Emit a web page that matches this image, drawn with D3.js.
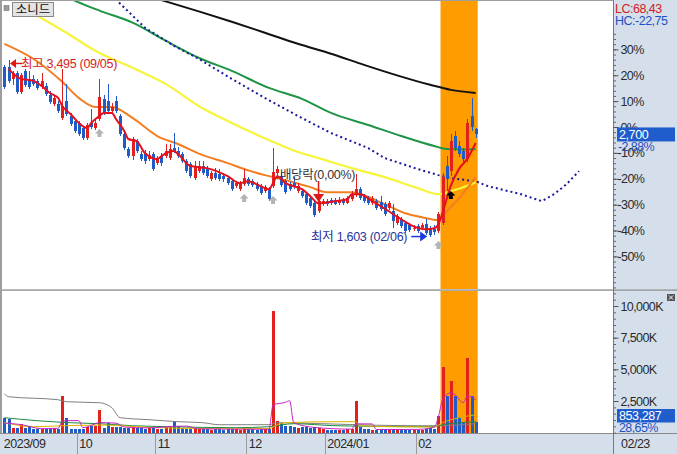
<!DOCTYPE html>
<html><head><meta charset="utf-8">
<script src="https://cdn.jsdelivr.net/npm/d3@7/dist/d3.min.js"></script>
<style>
html,body{margin:0;padding:0;background:#fff;overflow:hidden}
svg{display:block;font-family:"Liberation Sans","Noto Sans CJK KR",sans-serif}
</style></head><body>
<svg id="c" width="677" height="454"></svg>
<script>
// ---------------- DATA ----------------
const stockName = "소니드";
const monthLabels = ["2023/09","10","11","12","2024/01","02"];
const monthStartIdx = [0,18,37,59,78,100];
const lastDateLabel = "02/23";
const prevClose = 2780;

const opens = [3425,3425,3295,3360,3155,3385,3295,3295,3275,3210,3220,3125,3030,3030,2875,3060,2900,2845,
2825,2770,2660,2825,2770,2865,3080,3060,2950,3060,2900,2705,2545,2470,2630,2490,2500,2435,2490,
2390,2470,2470,2445,2555,2520,2490,2415,2380,2230,2305,2360,2340,2220,2285,2275,2250,2230,2200,2145,2110,2165,
2220,2200,2165,2145,2090,2110,2145,2285,2250,2200,2165,2175,2090,2090,2060,2015,1960,1875,1950,
1985,1995,1995,1960,1995,1960,2005,2045,2110,2035,2015,1960,1985,1970,1950,1905,1875,1745,1790,1745,1725,1680,
1715,1690,1735,1690,1680,1660,1745,2360,2305,2685,2575,2520,2435,2900,2760];
const highs = [3450,3495,3385,3385,3360,3405,3385,3340,3295,3360,3255,3170,3125,3060,3405,3245,2930,2865,
2845,2790,2825,2975,2865,3295,3125,3245,3040,3115,2920,2725,2565,2670,2650,2520,2530,2520,2510,
2470,2500,2595,2595,2715,2565,2510,2435,2405,2415,2415,2415,2360,2305,2340,2330,2285,2250,2220,2200,2200,2330,
2240,2220,2185,2165,2155,2135,2555,2360,2285,2220,2185,2240,2175,2110,2080,2035,1985,2005,2005,
2005,2015,2015,2025,2015,2035,2090,2275,2135,2060,2035,2035,2005,2035,1970,1985,1950,1845,1810,1765,1745,1725,
1735,1745,1790,1715,1725,1865,2285,2470,2705,2735,2630,2555,2865,3090,2770];
const lows = [3190,3255,3235,3135,3135,3210,3190,3220,3180,3190,3115,3030,3005,2930,2855,2900,2790,2715,
2685,2640,2640,2760,2750,2845,2910,2930,2930,2930,2685,2530,2445,2425,2500,2415,2380,2415,2305,
2370,2360,2445,2425,2500,2445,2390,2285,2230,2210,2285,2265,2230,2200,2210,2200,2185,2155,2090,2125,2090,2145,
2145,2135,2090,2045,2070,1985,2125,2220,2135,2060,2090,2110,2070,2015,1940,1905,1810,1855,1930,
1930,1940,1940,1940,1940,1950,1985,2025,1995,1960,1940,1940,1885,1875,1820,1885,1690,1725,1690,1640,1650,1660,
1640,1670,1615,1603,1625,1640,1725,2090,2250,2520,2455,2390,2405,2735,2660];
const closes = [3210,3275,3360,3155,3340,3235,3210,3245,3200,3275,3135,3050,3090,2950,3005,2920,2810,2735,
2705,2660,2800,2780,2825,3105,2930,2950,2995,2950,2705,2555,2470,2650,2520,2435,2415,2480,2330,
2445,2390,2520,2545,2520,2470,2415,2305,2250,2360,2360,2285,2250,2285,2230,2220,2220,2175,2110,2175,2175,2230,
2165,2155,2110,2070,2135,2005,2295,2330,2155,2080,2110,2135,2145,2035,1960,1930,1830,1985,1985,
1950,1960,1950,1995,1960,2015,2060,2110,2015,1985,1960,2005,1905,1895,1845,1960,1765,1820,1715,1660,1670,1700,
1660,1725,1640,1625,1650,1845,2240,2220,2630,2555,2490,2435,2825,2780,2700];
// volume in thousands of shares
const volumes = [1160,1100,390,390,710,400,420,320,280,300,330,310,380,320,2860,1160,280,300,
330,300,420,550,500,1810,400,760,450,420,450,400,380,420,380,350,330,370,350,
300,320,450,500,890,550,350,300,320,280,260,300,280,250,270,260,240,280,300,260,250,350,
280,260,250,270,300,260,9570,950,800,550,550,430,400,450,420,380,450,350,300,
250,230,220,240,230,260,280,2470,480,300,260,240,230,250,240,280,260,230,220,240,220,230,
240,220,280,350,300,1290,5150,2900,4100,2900,1200,800,5900,2900,853.287];

// price moving averages: [day index, price]
const maLong = [[30,4245],[38,4143],[47,4022],[55,3911],[63,3793],[71,3674],[79,3567],[87,3448],[95,3335],[103,3233],[108,3179],[114,3146]];
const ma60 = [[10,4299],[17,4138],[23,4030],[31,3901],[39,3707],[47,3524],[55,3383],[64,3200],[72,3082],[79,2931],[88,2802],[96,2683],[104,2575],[107,2543],[111,2538],[114,2543]];
const ma20 = [[8,3976],[15,3793],[22,3599],[31,3416],[39,3243],[47,3006],[55,2823],[64,2640],[71,2511],[76,2446],[84,2338],[92,2241],[100,2123],[105,2058],[108,2090],[111,2133],[114,2187]];
const ma10 = [[0,3674],[7,3513],[14,3265],[18,3093],[22,2996],[26,2996],[31,2877],[37,2683],[42,2597],[48,2478],[54,2392],[58,2328],[63,2263],[69,2198],[74,2134],[78,2080],[84,2080],[87,2047],[92,1950],[97,1853],[101,1810],[105,1778],[107,1875],[110,2015],[114,2241]];
const ma5 = [[1,3405],[4,3297],[7,3276],[9,3222],[11,3146],[13,3092],[14,3006],[16,2920],[18,2823],[20,2769],[21,2823],[23,2899],[24,2931],[26,2931],[27,2866],[29,2737],[30,2651],[32,2629],[34,2500],[37,2435],[38,2468],[41,2521],[42,2489],[45,2360],[49,2338],[54,2252],[57,2177],[59,2198],[62,2144],[64,2112],[65,2177],[66,2252],[68,2177],[72,2112],[74,2037],[76,1961],[80,1983],[83,2004],[84,2058],[86,2058],[89,1983],[93,1875],[96,1789],[99,1713],[102,1681],[104,1692],[105,1735],[106,1860],[108,2150],[110,2330],[112,2440],[114,2608]];
const leadSpan = [[26,4192],[34,3847],[41,3653],[47,3513],[55,3297],[63,3092],[71,2899],[79,2715],[88,2554],[92,2446],[100,2328],[105,2263],[108,2230],[114,2198],[117,2144],[125,2058],[130,1983],[133,2058],[136,2166],[139,2306]];

// volume moving averages (K): [day index, value]
const vmaLong = [[0,3076],[1,2839],[13,2602],[15,2445],[23,2366],[26,1972],[28,1183],[35,1025],[42,867],[48,789],[52,631],[64,631],[66,789],[77,710],[90,591],[100,552],[105,552],[114,710]];
const vma60 = [[0,1183],[8,946],[16,789],[23,710],[31,552],[40,473],[56,394],[64,473],[70,710],[80,552],[100,473],[104,473],[106,631],[110,789],[114,867]];
const vma20 = [[0,789],[7,470],[14,550],[24,600],[35,420],[50,320],[64,320],[66,630],[68,790],[80,870],[85,870],[86,550],[95,470],[104,450],[106,790],[110,1180],[114,1420]];
const vma5 = [[0,760],[4,640],[9,320],[13,350],[14,900],[16,960],[18,950],[19,400],[22,700],[23,800],[27,750],[29,450],[35,380],[41,500],[44,520],[47,300],[58,280],[64,270],[65,2200],[68,2400],[69,2520],[70,790],[75,420],[84,280],[85,700],[89,690],[90,250],[100,260],[104,450],[105,1260],[106,2600],[108,3150],[109,3000],[111,2370],[112,2900],[114,2600]];

const highlightFrom = 106, highlightTo = 114;   // orange band
const grayArrows = [23,58,65,105];
const blackArrows = [108];
const exDivIdx = 76;
const pctTicks = [30,20,10,0,-10,-20,-30,-40,-50];
const volTicks = [2500,5000,7500,10000];
const lcText = "LC:68,43", hcText = "HC:-22,75";
const lastPctText = "-2,88%", lastVolText = "853,287", volPctText = "28,65%";

// ---------------- LAYOUT ----------------
const svg = d3.select("#c");
const plotL = 2.3, slot = 4.134, nSlots = 148, axisX = 613;
const paneTop = 1, paneBot = 289, volTop = 291, volBot = 433;
const xl = d3.scaleLinear().domain([0, nSlots]).range([plotL, plotL + slot*nSlots]);
const xc = i => xl(i + 0.5);
const zeroY = 127, pxPer100 = 258.75;
const yP = d3.scaleLinear().domain([prevClose, prevClose*2]).range([zeroY, zeroY - pxPer100]);
const yPct = d3.scaleLinear().domain([0, 100]).range([zeroY, zeroY - pxPer100]);
const yV = d3.scaleLinear().domain([0, 10000]).range([432.7, 306]);

const UP = "#e3201c", DN = "#1f5cc8";
const panelBg = "#d5dfec";

svg.append("rect").attr("width",677).attr("height",454).attr("fill","#fff");
// right axis panel & bottom band
svg.append("rect").attr("x",axisX).attr("y",0).attr("width",677-axisX).attr("height",454).attr("fill",panelBg);
svg.append("rect").attr("x",0).attr("y",volBot).attr("width",677).attr("height",454-volBot).attr("fill",panelBg);

const defs = svg.append("defs");
defs.append("clipPath").attr("id","cp1").append("rect").attr("x",2).attr("y",paneTop).attr("width",axisX-2).attr("height",paneBot-paneTop);
defs.append("clipPath").attr("id","cp2").append("rect").attr("x",2).attr("y",volTop).attr("width",axisX-2).attr("height",volBot-volTop);

const gP = svg.append("g").attr("clip-path","url(#cp1)");
const gV = svg.append("g").attr("clip-path","url(#cp2)");

// orange highlight band
const bx0 = xl(highlightFrom), bx1 = xl(highlightTo+1);
gP.append("rect").attr("x",bx0).attr("y",paneTop).attr("width",bx1-bx0).attr("height",paneBot-paneTop).attr("fill","#ff9c00");
gV.append("rect").attr("x",bx0).attr("y",volTop).attr("width",bx1-bx0).attr("height",volBot-volTop).attr("fill","#ff9c00");

// long MA lines (behind candles)
const lineP = d3.line().x(d=>xc(d[0])).y(d=>yP(d[1])).curve(d3.curveMonotoneX);
const drawP = (data,color,w,dash,curve) => {
  const ln = d3.line().x(d=>xc(d[0])).y(d=>yP(d[1])).curve(curve||d3.curveMonotoneX);
  const p = gP.append("path").datum(data).attr("d",ln).attr("fill","none").attr("stroke",color).attr("stroke-width",w).attr("stroke-linejoin","round");
  if (dash) p.attr("stroke-dasharray",dash);
};
drawP(maLong,"#111111",2);
drawP(ma60,"#1e9446",2);
drawP(ma20,"#f6f43c",2.2);
drawP(leadSpan,"#1a1a9a",2,"2,3",d3.curveLinear);
drawP(ma10,"#f37e22",2);

// candles
const idx = d3.range(opens.length);
const col = i => closes[i] >= opens[i] ? UP : DN;
const cg = gP.append("g").attr("shape-rendering","crispEdges");
cg.selectAll("line.w").data(idx).join("line")
  .attr("x1",i=>Math.round(xc(i))+0.5).attr("x2",i=>Math.round(xc(i))+0.5)
  .attr("y1",i=>yP(highs[i])).attr("y2",i=>yP(lows[i])).attr("stroke",col).attr("stroke-width",1);
cg.selectAll("rect.b").data(idx).join("rect")
  .attr("x",i=>Math.round(xc(i))-1).attr("width",3)
  .attr("y",i=>yP(Math.max(opens[i],closes[i])))
  .attr("height",i=>Math.max(1,Math.abs(yP(opens[i])-yP(closes[i]))))
  .attr("fill",col);

drawP(ma5,"#e4101e",2);

// gray up arrows under candles
const upArrow = (g,cx,top,color) => {
  g.append("path").attr("d",`M${cx},${top} L${cx+4.5},${top+4.5} L${cx+2},${top+4.5} L${cx+2},${top+8} L${cx-2},${top+8} L${cx-2},${top+4.5} L${cx-4.5},${top+4.5} Z`).attr("fill",color);
};
grayArrows.forEach(i => upArrow(gP, xc(i), yP(lows[i])+8, "#b4b4b4"));
blackArrows.forEach(i => upArrow(gP, xc(i), 191, "#000"));

// high marker
const hiIdx = d3.maxIndex(highs), loIdx = d3.minIndex(lows);
const hx = xc(hiIdx)+1.5, hy = yP(highs[hiIdx]) + 3;
gP.append("path").attr("d",`M${hx},${hy} L${hx+6},${hy-4.5} L${hx+6},${hy+4.5} Z`).attr("fill","#e01818");
gP.append("line").attr("x1",hx+6).attr("x2",hx+12).attr("y1",hy).attr("y2",hy).attr("stroke","#e01818").attr("stroke-width",1.5);
gP.append("text").attr("x",hx+11).attr("y",hy).attr("dy","0.36em").attr("fill","#d42222").attr("font-size",12.5)
  .attr("letter-spacing","-0.3").text(`최고 ${d3.format(",")(highs[hiIdx])} (09/05)`);

// low marker
const lx = xc(loIdx)-3, ly = yP(lows[loIdx]);
gP.append("line").attr("x1",lx-16).attr("x2",lx-6).attr("y1",ly).attr("y2",ly).attr("stroke","#1a3ae0").attr("stroke-width",1.5);
gP.append("path").attr("d",`M${lx},${ly} L${lx-7},${ly-5} L${lx-7},${ly+5} Z`).attr("fill","#1a3ae0");
gP.append("text").attr("x",lx-20).attr("y",ly).attr("dy","0.36em").attr("text-anchor","end").attr("fill","#26349e").attr("font-size",12.5)
  .attr("letter-spacing","-0.3").text(`최저 ${d3.format(",")(lows[loIdx])} (02/06)`);

// ex-dividend marker
const ex = xc(exDivIdx);
gP.append("line").attr("x1",ex).attr("x2",ex).attr("y1",181).attr("y2",195).attr("stroke","#e01818").attr("stroke-width",1.5);
gP.append("path").attr("d",`M${ex-5.5},${194} L${ex+5.5},${194} L${ex},${202} Z`).attr("fill","#e01818");
gP.append("text").attr("x",ex-1).attr("y",174).attr("dy","0.36em").attr("text-anchor","middle").attr("fill","#333").attr("font-size",12.5)
  .attr("letter-spacing","-0.3").text("배당락(0,00%)");

// ---- volume pane ----
const vg = gV.append("g").attr("shape-rendering","crispEdges");
vg.selectAll("rect").data(idx).join("rect")
  .attr("x",i=>Math.round(xc(i))-1).attr("width",3)
  .attr("y",i=>yV(volumes[i])).attr("height",i=>yV(0)-yV(volumes[i]))
  .attr("fill",col);
const drawV = (data,color) => {
  const ln = d3.line().x(d=>xc(d[0])).y(d=>yV(d[1])).curve(d3.curveMonotoneX);
  gV.append("path").datum(data).attr("d",ln).attr("fill","none").attr("stroke",color).attr("stroke-width",1);
};
drawV(vmaLong,"#7f7f7f");
drawV(vma60,"#1e8a3e");
drawV(vma20,"#e0b400");
drawV(vma5,"#c424c4");

// ---- frames ----
svg.append("rect").attr("x",0).attr("y",0).attr("width",2).attr("height",volBot).attr("fill","#9e9e9e");
svg.append("line").attr("x1",0).attr("x2",axisX).attr("y1",0.5).attr("y2",0.5).attr("stroke","#9e9e9e");
svg.append("rect").attr("x",0).attr("y",289.3).attr("width",677).attr("height",1.6).attr("fill","#a0a0a0");
svg.append("line").attr("x1",0).attr("x2",677).attr("y1",volBot+0.5).attr("y2",volBot+0.5).attr("stroke","#8a8a8a");
svg.append("line").attr("x1",axisX+0.5).attr("x2",axisX+0.5).attr("y1",0).attr("y2",454).attr("stroke","#7a7a7a");

// ---- percent axis ----
const minorPct = d3.range(-62, 38, 2);
svg.append("g").attr("transform",`translate(${axisX+0.5},0)`)
  .call(d3.axisRight(yPct).tickValues(minorPct).tickSize(2.5).tickFormat(""))
  .call(g=>g.select(".domain").remove())
  .call(g=>g.selectAll("line").attr("stroke","#666"));
const pa = svg.append("g").attr("transform",`translate(${axisX+0.5},0)`)
  .call(d3.axisRight(yPct).tickValues(pctTicks).tickSize(5).tickPadding(2).tickFormat(d=>d+"%"))
  .call(g=>g.select(".domain").remove());
pa.selectAll("line").attr("stroke","#555");
pa.selectAll("text").attr("fill","#2a2a2a").attr("font-size",12.5).attr("font-family",null).attr("letter-spacing","-0.6")
  .attr("dx",d=>d<0?-3:0);

svg.append("text").attr("x",615).attr("y",8).attr("dy","0.36em").attr("fill","#d42020").attr("font-size",12.5).attr("letter-spacing","-0.5").text(lcText);
svg.append("text").attr("x",615).attr("y",20.5).attr("dy","0.36em").attr("fill","#2150c0").attr("font-size",12.5).attr("letter-spacing","-0.5").text(hcText);

// current price box
const cy = yP(closes[closes.length-1]);
svg.append("rect").attr("x",617).attr("y",cy-7).attr("width",58).attr("height",14).attr("fill","#1f5ccc");
svg.append("text").attr("x",619).attr("y",cy).attr("dy","0.36em").attr("fill","#fff").attr("font-size",12.5).attr("letter-spacing","-0.4")
  .text(d3.format(",")(closes[closes.length-1]));
svg.append("text").attr("x",618).attr("y",cy+12).attr("dy","0.36em").attr("fill","#2150c0").attr("font-size",12.5).attr("letter-spacing","-0.6").text(lastPctText);

// ---- volume axis ----
svg.append("g").attr("transform",`translate(${axisX+0.5},0)`)
  .call(d3.axisRight(yV).tickValues(d3.range(0, 11500, 500)).tickSize(2.5).tickFormat(""))
  .call(g=>g.select(".domain").remove())
  .call(g=>g.selectAll("line").attr("stroke","#666"));
const va = svg.append("g").attr("transform",`translate(${axisX+0.5},0)`)
  .call(d3.axisRight(yV).tickValues(volTicks).tickSize(5).tickPadding(2).tickFormat(d=>d3.format(",")(d)+"K"))
  .call(g=>g.select(".domain").remove());
va.selectAll("line").attr("stroke","#555");
va.selectAll("text").attr("fill","#2a2a2a").attr("font-size",12.5).attr("font-family",null).attr("letter-spacing","-0.6");

const vy = yV(volumes[volumes.length-1]);
svg.append("rect").attr("x",617).attr("y",409).attr("width",58).attr("height",13.5).attr("fill","#1f5ccc");
svg.append("text").attr("x",619).attr("y",415.8).attr("dy","0.36em").attr("fill","#fff").attr("font-size",12.5).attr("letter-spacing","-0.4").text(lastVolText);
svg.append("text").attr("x",619).attr("y",427.5).attr("dy","0.36em").attr("fill","#2150c0").attr("font-size",12.5).attr("letter-spacing","-0.6").text(volPctText);

// close icon in volume pane
svg.append("rect").attr("x",667).attr("y",294).attr("width",8).attr("height",7).attr("fill","#555");
svg.append("path").attr("d","M669,295.5 L673,299.5 M673,295.5 L669,299.5").attr("stroke","#fff").attr("stroke-width",1);

// ---- date axis ----
const da = svg.append("g");
monthStartIdx.forEach((m,k) => {
  const x0 = xl(m);
  if (k>0) da.append("line").attr("x1",Math.round(x0)+0.5).attr("x2",Math.round(x0)+0.5).attr("y1",volBot+1).attr("y2",454).attr("stroke","#9a9a9a");
  da.append("text").attr("x",x0+ (k===0?1.5:2.5)).attr("y",443.5).attr("dy","0.36em").attr("fill","#2a2a2a").attr("font-size",12.5).attr("letter-spacing","-0.5").text(monthLabels[k]);
});
da.append("text").attr("x",621).attr("y",443.5).attr("dy","0.36em").attr("fill","#2a2a2a").attr("font-size",12.5).attr("letter-spacing","-0.5").text(lastDateLabel);

// ---- title button ----
svg.append("rect").attr("x",4).attr("y",5.5).attr("width",5).attr("height",5).attr("fill","#9a9a9a").attr("stroke","#777").attr("stroke-width",0.6);
svg.append("rect").attr("x",12.5).attr("y",2.5).attr("width",41).attr("height",14).attr("fill","#e4e4e4").attr("stroke","#8a8a8a");
svg.append("text").attr("x",33).attr("y",9.8).attr("dy","0.36em").attr("text-anchor","middle").attr("fill","#111")
  .attr("font-family","'Noto Sans CJK KR',sans-serif").attr("font-size",12.5).text(stockName);
</script>
</body></html>
